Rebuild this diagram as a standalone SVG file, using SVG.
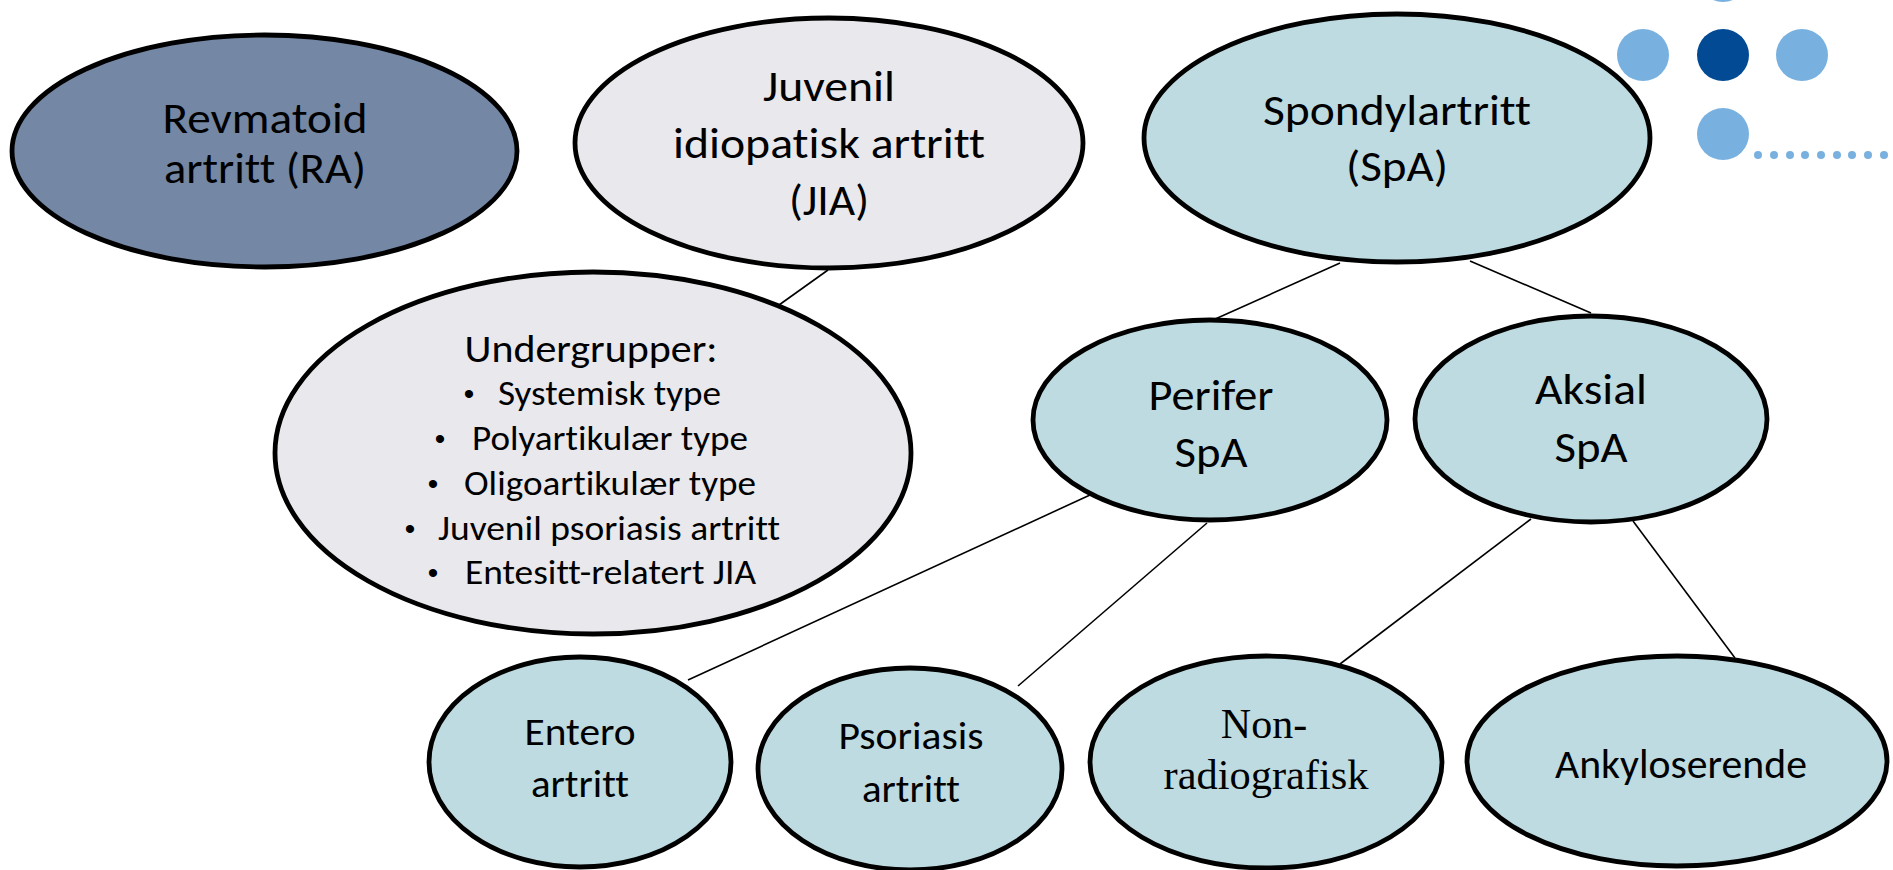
<svg xmlns="http://www.w3.org/2000/svg" width="1893" height="870" viewBox="0 0 1893 870">
<style>
.n{stroke:#000;stroke-width:4.8}
.ra{fill:#7487a4}
.jia{fill:#e9e8ec}
.spa{fill:#bddbe0}
.t{font-family:Carlito,Lato,"Liberation Sans",sans-serif;fill:#000;text-anchor:middle;font-variant-ligatures:none;font-feature-settings:"liga" 0,"clig" 0,"dlig" 0}
.s{font-family:"Liberation Serif",serif;fill:#000;text-anchor:middle}
.st{text-anchor:start}
.b{font-family:"Liberation Sans",sans-serif;fill:#000;text-anchor:middle;font-size:30px}
.c line{stroke:#000;stroke-width:1.6}
.ld{fill:#78b1e0}
.dd{fill:#024a94}
</style>
<rect width="1893" height="870" fill="#fff"/>
<g id="decor">
<circle class="ld" cx="1723" cy="-24" r="26"/>
<circle class="ld" cx="1643" cy="55" r="26"/>
<circle class="dd" cx="1723" cy="55" r="26"/>
<circle class="ld" cx="1802" cy="55" r="26"/>
<circle class="ld" cx="1723" cy="134" r="26"/>
<circle class="ld" cx="1758" cy="155" r="4"/>
<circle class="ld" cx="1774" cy="155" r="4"/>
<circle class="ld" cx="1790" cy="155" r="4"/>
<circle class="ld" cx="1805" cy="155" r="4"/>
<circle class="ld" cx="1821" cy="155" r="4"/>
<circle class="ld" cx="1837" cy="155" r="4"/>
<circle class="ld" cx="1852" cy="155" r="4"/>
<circle class="ld" cx="1868" cy="155" r="4"/>
<circle class="ld" cx="1884" cy="155" r="4"/>
</g>
<g class="c" id="connectors">
<line x1="828" y1="270" x2="779" y2="305"/>
<line x1="1340" y1="263" x2="1213" y2="320"/>
<line x1="1470" y1="261" x2="1591" y2="313"/>
<line x1="1090" y1="495" x2="688" y2="680"/>
<line x1="1207" y1="523" x2="1018" y2="686"/>
<line x1="1531" y1="519" x2="1340" y2="664"/>
<line x1="1633" y1="521" x2="1735" y2="658"/>
</g>
<g id="ra">
<ellipse class="n ra" cx="264.5" cy="151" rx="252.5" ry="116"/>
<text class="t" font-size="44" x="265" y="133" textLength="205" lengthAdjust="spacingAndGlyphs">Revmatoid</text>
<text class="t" font-size="44" x="265" y="183" textLength="202" lengthAdjust="spacingAndGlyphs">artritt (RA)</text>
</g>
<g id="jia">
<ellipse class="n jia" cx="829" cy="143" rx="254" ry="125"/>
<text class="t" font-size="44" x="829" y="101" textLength="132" lengthAdjust="spacingAndGlyphs">Juvenil</text>
<text class="t" font-size="44" x="829" y="158" textLength="312" lengthAdjust="spacingAndGlyphs">idiopatisk artritt</text>
<text class="t" font-size="44" x="829" y="215" textLength="80" lengthAdjust="spacingAndGlyphs">(JIA)</text>
</g>
<g id="spa">
<ellipse class="n spa" cx="1397" cy="138" rx="253" ry="124"/>
<text class="t" font-size="44" x="1397" y="125" textLength="268" lengthAdjust="spacingAndGlyphs">Spondylartritt</text>
<text class="t" font-size="44" x="1397" y="181" textLength="102" lengthAdjust="spacingAndGlyphs">(SpA)</text>
</g>
<g id="undergrupper">
<ellipse class="n jia" cx="593" cy="453" rx="318" ry="181"/>
<text class="t" font-size="39" x="591" y="362" textLength="253" lengthAdjust="spacingAndGlyphs">Undergrupper:</text>
<text class="b" x="469" y="404">•</text>
<text class="t st" font-size="35" x="498" y="405" textLength="223" lengthAdjust="spacingAndGlyphs">Systemisk type</text>
<text class="b" x="440" y="449">•</text>
<text class="t st" font-size="35" x="472" y="450" textLength="276" lengthAdjust="spacingAndGlyphs">Polyartikulær type</text>
<text class="b" x="433" y="494">•</text>
<text class="t st" font-size="35" x="464" y="495" textLength="292" lengthAdjust="spacingAndGlyphs">Oligoartikulær type</text>
<text class="b" x="410" y="539">•</text>
<text class="t st" font-size="35" x="438" y="540" textLength="342" lengthAdjust="spacingAndGlyphs">Juvenil psoriasis artritt</text>
<text class="b" x="433" y="583">•</text>
<text class="t st" font-size="35" x="465" y="584" textLength="291" lengthAdjust="spacingAndGlyphs">Entesitt-relatert JIA</text>
</g>
<g id="perifer">
<ellipse class="n spa" cx="1210" cy="420" rx="177" ry="100"/>
<text class="t" font-size="44" x="1211" y="410" textLength="125" lengthAdjust="spacingAndGlyphs">Perifer</text>
<text class="t" font-size="44" x="1211" y="467" textLength="73" lengthAdjust="spacingAndGlyphs">SpA</text>
</g>
<g id="aksial">
<ellipse class="n spa" cx="1591" cy="419" rx="176" ry="103"/>
<text class="t" font-size="44" x="1591" y="404" textLength="112" lengthAdjust="spacingAndGlyphs">Aksial</text>
<text class="t" font-size="44" x="1591" y="462" textLength="73" lengthAdjust="spacingAndGlyphs">SpA</text>
</g>
<g id="entero">
<ellipse class="n spa" cx="580" cy="762" rx="151" ry="105"/>
<text class="t" font-size="39" x="580" y="745" textLength="111" lengthAdjust="spacingAndGlyphs">Entero</text>
<text class="t" font-size="39" x="580" y="797" textLength="98" lengthAdjust="spacingAndGlyphs">artritt</text>
</g>
<g id="psoriasis">
<ellipse class="n spa" cx="910" cy="769" rx="152" ry="101"/>
<text class="t" font-size="39" x="911" y="749" textLength="145" lengthAdjust="spacingAndGlyphs">Psoriasis</text>
<text class="t" font-size="39" x="911" y="802" textLength="98" lengthAdjust="spacingAndGlyphs">artritt</text>
</g>
<g id="nonradiografisk">
<ellipse class="n spa" cx="1266" cy="762" rx="176" ry="106"/>
<text class="s" font-size="42" x="1264" y="738">Non-</text>
<text class="s" font-size="42" x="1266" y="789" textLength="205" lengthAdjust="spacingAndGlyphs">radiografisk</text>
</g>
<g id="ankyloserende">
<ellipse class="n spa" cx="1677" cy="761" rx="210" ry="105"/>
<text class="t" font-size="40" x="1681" y="778" textLength="252" lengthAdjust="spacingAndGlyphs">Ankyloserende</text>
</g>
</svg>
